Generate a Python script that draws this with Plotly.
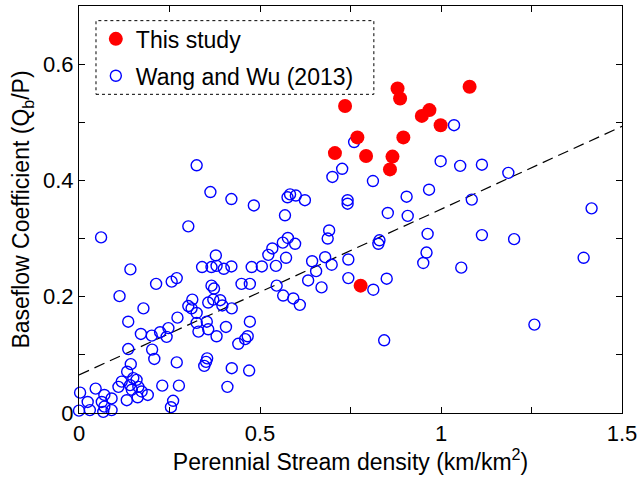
import plotly.graph_objects as go

# ---- data ----
study_x = [0.735, 0.880, 0.887, 0.947, 0.968, 0.769, 0.896, 0.999, 1.079,
           0.707, 0.793, 0.866, 0.859, 0.778]
study_y = [0.528, 0.558, 0.541, 0.511, 0.521, 0.474, 0.474, 0.495, 0.561,
           0.447, 0.442, 0.441, 0.419, 0.219]

wang_x = [0.003, 0.046, 0.070, 0.090, 0.063, 0.024, 0.030, 0.000, 0.070, 0.090,
          0.067, 0.109, 0.118, 0.133, 0.143, 0.136, 0.150, 0.159, 0.141, 0.164,
          0.146, 0.173, 0.190, 0.162, 0.132, 0.230, 0.276, 0.260, 0.254, 0.410,
          0.202, 0.208, 0.270, 0.354, 0.351, 0.346, 0.422, 0.470, 0.171, 0.201,
          0.224, 0.242, 0.247, 0.272, 0.325, 0.353, 0.330, 0.357, 0.380, 0.406,
          0.472, 0.440, 0.459, 0.466, 0.313, 0.302, 0.311, 0.325, 0.357, 0.371,
          0.390, 0.396, 0.422, 0.178, 0.112, 0.136, 0.213, 0.256, 0.270, 0.366,
          0.373, 0.449, 0.472, 0.142, 0.340, 0.366, 0.380, 0.378, 0.400, 0.421,
          0.477, 0.505, 0.061, 0.302, 0.325, 0.363, 0.421, 0.483, 0.564, 0.592,
          0.610, 0.546, 0.633, 0.670, 0.744, 0.813, 0.850, 0.843, 0.644, 0.680,
          0.655, 0.698, 0.744, 0.544, 0.572, 0.523, 0.534, 0.563, 0.597, 0.577,
          0.687, 0.691, 0.569, 0.576, 0.583, 0.599, 0.624, 0.742, 0.742, 0.700,
          0.727, 0.760, 0.812, 0.853, 0.908, 0.905, 0.967, 0.830, 0.827, 0.963,
          0.960, 0.951, 0.999, 1.053, 1.113, 1.186, 1.085, 1.416, 1.113, 1.202,
          1.056, 1.394, 1.258, 1.036]
wang_y = [0.035, 0.042, 0.031, 0.025, 0.019, 0.019, 0.005, 0.004, 0.011, 0.005,
          0.002, 0.045, 0.054, 0.071, 0.084, 0.110, 0.060, 0.057, 0.048, 0.045,
          0.040, 0.037, 0.031, 0.027, 0.022, 0.047, 0.047, 0.021, 0.010, 0.045,
          0.109, 0.093, 0.087, 0.094, 0.088, 0.081, 0.077, 0.073, 0.136, 0.133,
          0.139, 0.131, 0.146, 0.164, 0.155, 0.157, 0.140, 0.144, 0.132, 0.148,
          0.157, 0.119, 0.127, 0.132, 0.195, 0.184, 0.180, 0.172, 0.190, 0.195,
          0.194, 0.185, 0.180, 0.180, 0.201, 0.157, 0.222, 0.226, 0.232, 0.219,
          0.214, 0.222, 0.222, 0.247, 0.251, 0.251, 0.253, 0.271, 0.248, 0.252,
          0.251, 0.252, 0.302, 0.321, 0.426, 0.380, 0.368, 0.357, 0.202, 0.197,
          0.186, 0.219, 0.228, 0.216, 0.232, 0.212, 0.231, 0.125, 0.261, 0.268,
          0.244, 0.255, 0.264, 0.253, 0.267, 0.272, 0.283, 0.293, 0.291, 0.301,
          0.300, 0.314, 0.340, 0.371, 0.376, 0.374, 0.366, 0.366, 0.360, 0.406,
          0.420, 0.466, 0.399, 0.344, 0.339, 0.372, 0.384, 0.297, 0.291, 0.308,
          0.276, 0.258, 0.433, 0.425, 0.427, 0.413, 0.367, 0.352, 0.306, 0.299,
          0.250, 0.267, 0.152, 0.495]

fit_intercept = 0.0655
fit_slope = 0.285
fit_x = [0.0, 1.5]

x_tick_vals = [0, 0.25, 0.5, 0.75, 1.0, 1.25, 1.5]
x_tick_text = ["0", "", "0.5", "", "1", "", "1.5"]
y_tick_vals = [0, 0.1, 0.2, 0.3, 0.4, 0.5, 0.6, 0.7]
y_tick_text = ["0", "", "0.2", "", "0.4", "", "0.6", ""]

FONT = "Liberation Sans, Arial, Helvetica, sans-serif"

fig = go.Figure()

fig.add_trace(go.Scatter(
    x=fit_x, y=[fit_intercept + fit_slope * v for v in fit_x],
    mode="lines", line=dict(color="black", width=1.2, dash="11px,6px"),
    showlegend=False, hoverinfo="skip"))

fig.add_trace(go.Scatter(
    x=wang_x, y=wang_y, mode="markers", name="Wang and Wu (2013)",
    marker=dict(symbol="circle-open", size=11, color="#0000ff",
                line=dict(width=1.4, color="#0000ff")),
    cliponaxis=False, legendgroup="b", legendrank=2))

fig.add_trace(go.Scatter(
    x=study_x, y=study_y, mode="markers", name="This study",
    marker=dict(symbol="circle", size=14, color="#ff0000",
                line=dict(width=0)),
    cliponaxis=False, legendgroup="a", legendrank=1))

axis_common = dict(
    showline=True, linecolor="black", linewidth=1.2, mirror="ticks",
    ticks="inside", ticklen=6, tickwidth=1.2, tickcolor="black",
    showgrid=False, zeroline=False, automargin=False,
    tickfont=dict(family=FONT, size=22, color="black"),
)

fig.update_layout(
    width=640, height=482,
    margin=dict(l=79, r=18, t=6, b=69),
    paper_bgcolor="white", plot_bgcolor="white",
    font=dict(family=FONT, color="black"),
    xaxis=dict(range=[0, 1.5], tickmode="array", tickvals=x_tick_vals,
               ticktext=x_tick_text,
               title=dict(text="Perennial Stream density (km/km<sup>2</sup>)",
                          font=dict(family=FONT, size=23), standoff=8),
               **axis_common),
    yaxis=dict(range=[0, 0.7], tickmode="array", tickvals=y_tick_vals,
               ticktext=y_tick_text,
               title=dict(text="Baseflow Coefficient (Q<sub>b</sub>/P)",
                          font=dict(family=FONT, size=23), standoff=6),
               **axis_common),
    legend=dict(x=0.031, y=0.972, xanchor="left", yanchor="top",
                bgcolor="rgba(0,0,0,0)", borderwidth=0,
                font=dict(family=FONT, size=23, color="black"),
                traceorder="grouped", tracegroupgap=4, itemsizing="trace"),
    shapes=[dict(type="rect", xref="paper", yref="paper",
                 x0=0.0313, x1=0.543, y0=0.783, y1=0.964,
                 line=dict(color="black", width=1, dash="dot"),
                 fillcolor="white", layer="below")],
)

fig.write_html("out.html")
